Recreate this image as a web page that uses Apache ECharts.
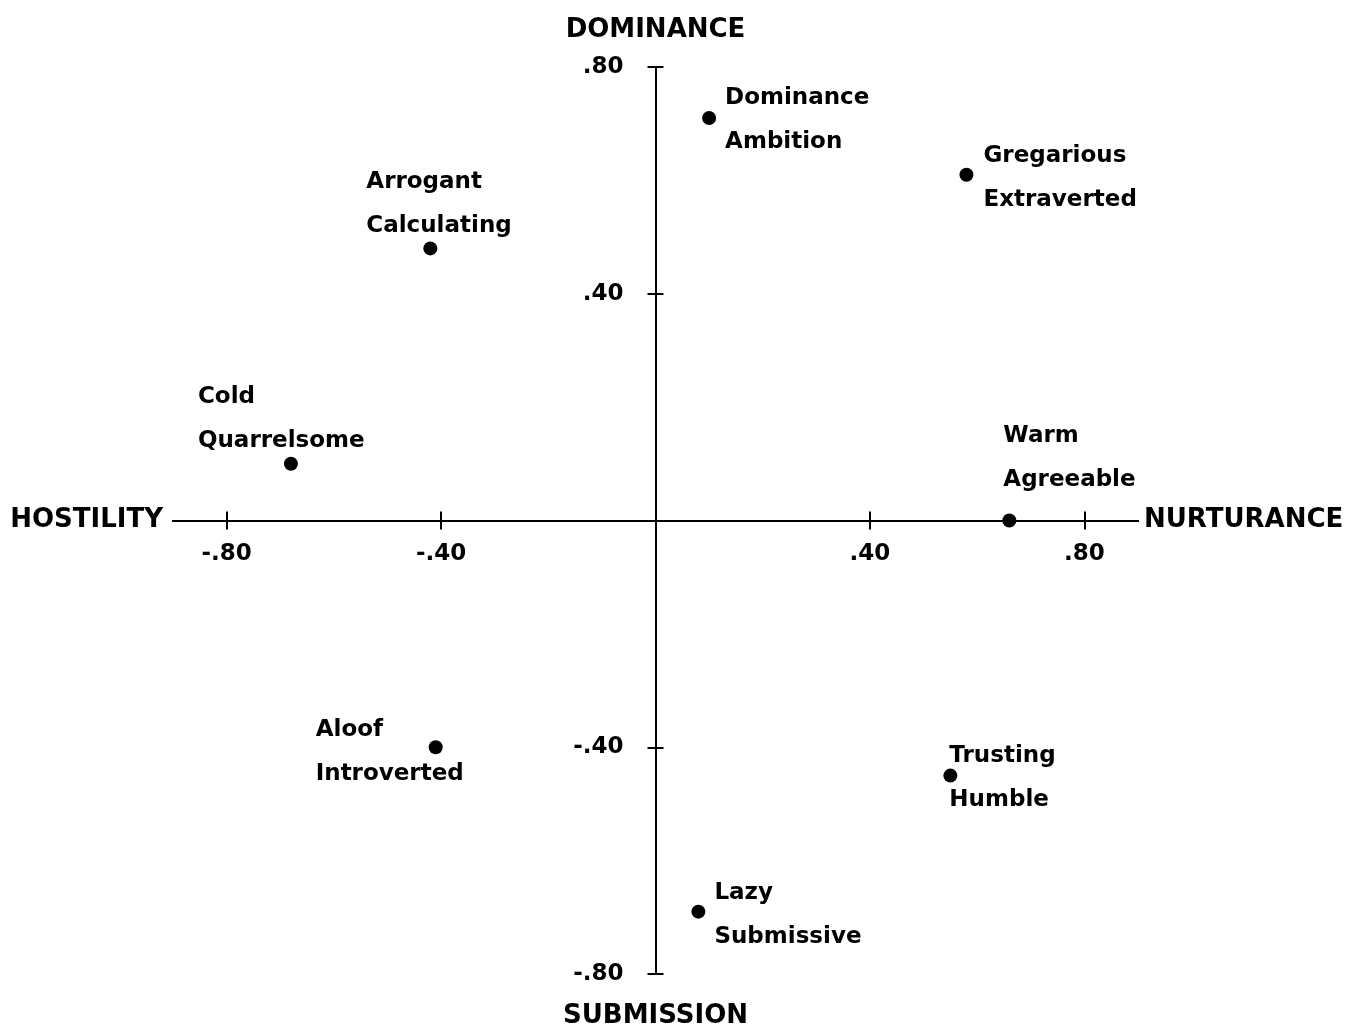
<!DOCTYPE html>
<html><head><meta charset="utf-8">
<script src="https://cdn.jsdelivr.net/npm/echarts@6/dist/echarts.min.js"></script>
<style>html,body{margin:0;padding:0;background:#fff}#c{width:1345px;height:1027px}</style>
</head><body><div id="c"></div>
<script>
// ---- data ----
const traitNames = ['Dominance\nAmbition', 'Gregarious\nExtraverted', 'Arrogant\nCalculating', 'Cold\nQuarrelsome',
                    'Warm\nAgreeable', 'Aloof\nIntroverted', 'Trusting\nHumble', 'Lazy\nSubmissive'];
const nurturance = [0.10, 0.58, -0.42, -0.68, 0.66, -0.41, 0.55, 0.08];
const dominance  = [0.71, 0.61, 0.48, 0.10, 0.00, -0.40, -0.45, -0.69];
const xTicks = [-0.8, -0.4, 0.4, 0.8];
const yTicks = [-0.8, -0.4, 0.4, 0.8];
const nameLeft = 'HOSTILITY', nameRight = 'NURTURANCE', nameTop = 'DOMINANCE', nameBottom = 'SUBMISSION';

// ---- layout / label placement (pixels), kept apart from the data ----
const labelOffsets = [[16, 2], [17, 3], [-64, -44], [-93, -45], [-6, -62], [-120, 5], [-1, 2], [16, 3]];
const GRID = { left: 173, width: 965, top: 67, height: 907 };
// axes cross at the zero of each other's scale (centre of the symmetric ranges)
const X_SHIFT = -GRID.height / 2;
const Y_SHIFT = -GRID.width / 2;

const FONT = 'DejaVu Sans';
const fmt = v => (v < 0 ? '-' : '') + Math.abs(v).toFixed(2).replace(/^0/, '');
const lineStyle = { color: '#000', width: 2 };
const nameStyle = { color: '#000', fontFamily: FONT, fontWeight: 'bold', fontSize: 26 };
const tickFont = { color: '#000', fontFamily: FONT, fontWeight: 'bold', fontSize: 23 };

function makeX(pos, showLabel, name, loc, gap) {
  return {
    type: 'value', position: pos, min: -0.9, max: 0.9, offset: X_SHIFT,
    axisLine: { show: true, onZero: false, lineStyle },
    axisTick: { show: true, customValues: xTicks, length: 9, lineStyle },
    axisLabel: Object.assign({ show: showLabel, customValues: xTicks, formatter: fmt, margin: 22 }, tickFont),
    splitLine: { show: false },
    name, nameLocation: loc, nameGap: gap, nameTextStyle: nameStyle
  };
}
function makeY(pos, showLabel, name, loc, gap) {
  return {
    type: 'value', position: pos, min: -0.8, max: 0.8, offset: Y_SHIFT,
    axisLine: { show: true, onZero: false, lineStyle },
    axisTick: { show: true, customValues: yTicks, length: 8, lineStyle },
    axisLabel: Object.assign({ show: showLabel, customValues: yTicks, formatter: fmt, margin: 32 }, tickFont),
    splitLine: { show: false },
    name, nameLocation: loc, nameGap: gap, nameTextStyle: nameStyle
  };
}

const points = traitNames.map((n, i) => ({
  name: n,
  value: [nurturance[i], dominance[i]],
  label: { offset: labelOffsets[i] }
}));

const chart = echarts.init(document.getElementById('c'), null, { renderer: 'canvas' });
chart.setOption({
  animation: false,
  backgroundColor: '#fff',
  grid: Object.assign({ outerBoundsMode: 'none', containLabel: false }, GRID),
  xAxis: [
    makeX('bottom', true, nameRight, 'end', 6),
    makeX('top', false, nameLeft, 'start', 10)
  ],
  yAxis: [
    makeY('left', true, nameTop, 'end', 24),
    makeY('right', false, nameBottom, 'start', 29)
  ],
  series: [{
    type: 'scatter', xAxisIndex: 0, yAxisIndex: 0,
    symbol: 'circle', symbolSize: 14,
    itemStyle: { color: '#000', opacity: 1 },
    label: { show: true, position: 'inside', align: 'left', verticalAlign: 'middle', formatter: '{b}',
             lineHeight: 44, color: '#000', opacity: 1, fontFamily: FONT, fontWeight: 'bold', fontSize: 23 },
    emphasis: { disabled: true },
    data: points
  }]
});
</script>
</body></html>
